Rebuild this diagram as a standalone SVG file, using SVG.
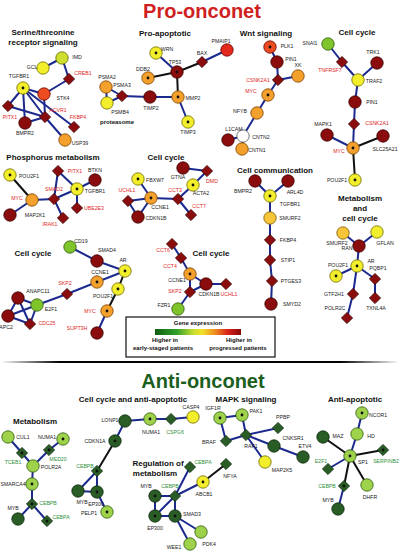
<svg xmlns="http://www.w3.org/2000/svg" xmlns:xlink="http://www.w3.org/1999/xlink" width="400" height="553" viewBox="0 0 400 553">
<defs>
<style>
text{font-family:"Liberation Sans",Arial,sans-serif}
.dr{fill:#8a0c0c;stroke:#3a0000}
.rd{fill:#e3281e;stroke:#600}
.ro{fill:#ec4c1f;stroke:#600}
.or{fill:#f3a02c;stroke:#7a4000}
.yo{fill:#f6c53a;stroke:#7a5a00}
.ye{fill:#f2ee2c;stroke:#6e6a00}
.yg{fill:#cfdf2e;stroke:#5a6a00}
.gr{fill:#80c42c;stroke:#2e5a10}
.lg{fill:#9ed24a;stroke:#2e5a10}
.dg{fill:#2a5c25;stroke:#0e2a0e}
.wh{fill:#fff;stroke:#555}
use{stroke-width:0.8}
.d{fill:#111}
.e line{stroke-width:2;stroke-linecap:round}
.b{stroke:#1c2a8e}
.k{stroke:#111}
.l{font-size:5.2px;text-anchor:middle;fill:#1a1a1a}
.lr{fill:#e0261c}
.lgn{fill:#2f8f3a}
.h{font-size:8px;font-weight:bold;text-anchor:middle;fill:#111}
.big{font-size:20px;font-weight:bold;text-anchor:middle}
.lt{font-size:6px;font-weight:bold;text-anchor:middle;fill:#111}
</style>
<circle id="C" r="6.2"/>
<polygon id="D" points="0,-5.6 5.6,0 0,5.6 -5.6,0"/>
<linearGradient id="gx" x1="0" x2="1" y1="0" y2="0">
<stop offset="0" stop-color="#0f5e12"/><stop offset="0.25" stop-color="#2ea02a"/><stop offset="0.45" stop-color="#c8e030"/><stop offset="0.55" stop-color="#f3e02a"/><stop offset="0.7" stop-color="#f08a20"/><stop offset="0.85" stop-color="#d8201a"/><stop offset="1" stop-color="#8a0a0a"/>
</linearGradient>
<linearGradient id="dv" gradientUnits="userSpaceOnUse" x1="0" y1="0" x2="400" y2="0">
<stop offset="0" stop-color="#000" stop-opacity="0"/><stop offset="0.15" stop-color="#000"/><stop offset="0.85" stop-color="#000"/><stop offset="1" stop-color="#000" stop-opacity="0"/>
</linearGradient>
</defs>
<rect width="400" height="553" fill="#fff"/>

<text class="big" x="202" y="18" fill="#d01f1f">Pro-onconet</text>
<text class="big" x="203" y="388" fill="#1b5e20">Anti-onconet</text>
<line x1="2" y1="362" x2="398" y2="362" stroke="url(#dv)" stroke-width="2.2"/>

<g id="titles">
<text class="h" x="43" y="35">Serine/threonine</text>
<text class="h" x="43" y="45">receptor signaling</text>
<text class="h" x="165" y="36">Pro-apoptotic</text>
<text class="h" x="266" y="36">Wnt signaling</text>
<text class="h" x="357" y="35">Cell cycle</text>
<text class="lt" x="117" y="124">proteasome</text>
<text class="h" x="53" y="160">Phosphorus metabolism</text>
<text class="h" x="166" y="160">Cell cycle</text>
<text class="h" x="275" y="173">Cell communication</text>
<text class="h" x="360" y="201">Metabolism</text>
<text class="h" x="360" y="211">and</text>
<text class="h" x="360" y="221">cell cycle</text>
<text class="h" x="33" y="256">Cell cycle</text>
<text class="h" x="211" y="256">Cell cycle</text>
<text class="h" x="133" y="402">Cell cycle and anti-apoptotic</text>
<text class="h" x="246" y="402">MAPK signaling</text>
<text class="h" x="355" y="402">Anti-apoptotic</text>
<text class="h" x="35" y="424">Metabolism</text>
<text class="h" x="158" y="466">Regulation of</text>
<text class="h" x="155" y="476">metabolism</text>
</g>

<g id="legend">
<rect x="126" y="317" width="149" height="40" fill="#fff" stroke="#111" stroke-width="1.2"/>
<text class="lt" x="198" y="325">Gene expression</text>
<rect x="155" y="329" width="86" height="6" fill="url(#gx)"/>
<text class="lt" x="165" y="342">Higher in</text>
<text class="lt" x="163" y="350">early-staged patients</text>
<text class="lt" x="239" y="342">Higher in</text>
<text class="lt" x="238" y="350">progressed patients</text>
</g>

<g id="connectors" class="e">
<line class="b" x1="43" y1="68" x2="62" y2="58"/>
<line class="b" x1="62" y1="58" x2="69" y2="79"/>
<line class="b" x1="69" y1="79" x2="44" y2="94"/>
<line class="b" x1="23" y1="88" x2="44" y2="94"/>
<line class="b" x1="23" y1="88" x2="8" y2="106"/>
<line class="b" x1="23" y1="88" x2="25" y2="123"/>
<line class="b" x1="23" y1="88" x2="45" y2="117"/>
<line class="b" x1="23" y1="88" x2="74" y2="127"/>
<line class="b" x1="45" y1="117" x2="8" y2="106"/>
<line class="b" x1="45" y1="117" x2="25" y2="123"/>
<line class="b" x1="45" y1="117" x2="44" y2="94"/>
<line class="b" x1="45" y1="117" x2="65" y2="140"/>
<line class="b" x1="106" y1="87" x2="122" y2="96"/>
<line class="b" x1="106" y1="87" x2="107" y2="103"/>
<line class="b" x1="107" y1="103" x2="122" y2="96"/>
<line class="b" x1="122" y1="96" x2="150" y2="97"/>
<line class="b" x1="156" y1="53" x2="177" y2="72"/>
<line class="k" x1="177" y1="72" x2="202" y2="62"/>
<line class="b" x1="202" y1="62" x2="227" y2="50"/>
<line class="k" x1="177" y1="72" x2="148" y2="78"/>
<line class="k" x1="177" y1="72" x2="178" y2="97"/>
<line class="b" x1="178" y1="97" x2="150" y2="97"/>
<line class="b" x1="178" y1="97" x2="188" y2="122"/>
<line class="b" x1="270" y1="47" x2="277" y2="62"/>
<line class="b" x1="277" y1="62" x2="278" y2="80"/>
<line class="b" x1="298" y1="76" x2="278" y2="80"/>
<line class="b" x1="278" y1="80" x2="268" y2="95"/>
<line class="b" x1="268" y1="95" x2="257" y2="113"/>
<line class="b" x1="257" y1="113" x2="243" y2="136"/>
<line class="b" x1="243" y1="136" x2="228" y2="140"/>
<line class="b" x1="243" y1="136" x2="242" y2="149"/>
<line class="b" x1="328" y1="44" x2="342" y2="62"/>
<line class="b" x1="342" y1="62" x2="358" y2="80"/>
<line class="b" x1="377" y1="63" x2="358" y2="80"/>
<line class="b" x1="358" y1="80" x2="355" y2="102"/>
<line class="b" x1="355" y1="102" x2="354" y2="124"/>
<line class="b" x1="354" y1="124" x2="353" y2="148"/>
<line class="b" x1="327" y1="135" x2="353" y2="148"/>
<line class="k" x1="383" y1="136" x2="353" y2="148"/>
<line class="k" x1="353" y1="148" x2="355" y2="180"/>
<line class="k" x1="10" y1="175" x2="32" y2="200"/>
<line class="b" x1="32" y1="200" x2="10" y2="215"/>
<line class="b" x1="32" y1="200" x2="54" y2="199"/>
<line class="b" x1="54" y1="199" x2="63" y2="218"/>
<line class="b" x1="54" y1="199" x2="58" y2="171"/>
<line class="b" x1="54" y1="199" x2="77" y2="189"/>
<line class="b" x1="77" y1="189" x2="95" y2="180"/>
<line class="b" x1="77" y1="189" x2="77" y2="208"/>
<line class="b" x1="77" y1="189" x2="58" y2="171"/>
<line class="b" x1="138" y1="179" x2="151" y2="198"/>
<line class="b" x1="151" y1="198" x2="128" y2="201"/>
<line class="b" x1="151" y1="198" x2="138" y2="217"/>
<line class="b" x1="128" y1="201" x2="138" y2="217"/>
<line class="b" x1="151" y1="198" x2="178" y2="199"/>
<line class="b" x1="178" y1="199" x2="193" y2="185"/>
<line class="b" x1="183" y1="168" x2="207" y2="171"/>
<line class="b" x1="207" y1="171" x2="193" y2="185"/>
<line class="b" x1="178" y1="199" x2="191" y2="215"/>
<line class="b" x1="255" y1="181" x2="270" y2="196"/>
<line class="b" x1="288" y1="181" x2="270" y2="196"/>
<line class="b" x1="270" y1="196" x2="270" y2="218"/>
<line class="b" x1="270" y1="218" x2="270" y2="240"/>
<line class="b" x1="270" y1="240" x2="270" y2="260"/>
<line class="b" x1="270" y1="260" x2="272" y2="281"/>
<line class="b" x1="272" y1="281" x2="271" y2="304"/>
<line class="b" x1="343" y1="233" x2="359" y2="246"/>
<line class="b" x1="377" y1="232" x2="359" y2="246"/>
<line class="b" x1="359" y1="246" x2="357" y2="266"/>
<line class="b" x1="357" y1="266" x2="336" y2="276"/>
<line class="b" x1="357" y1="266" x2="375" y2="279"/>
<line class="b" x1="357" y1="266" x2="353" y2="294"/>
<line class="b" x1="353" y1="294" x2="347" y2="318"/>
<line class="b" x1="375" y1="279" x2="375" y2="298"/>
<line class="b" x1="70" y1="247" x2="97" y2="261"/>
<line class="b" x1="97" y1="261" x2="125" y2="271"/>
<line class="b" x1="125" y1="271" x2="97" y2="282"/>
<line class="k" x1="125" y1="271" x2="118" y2="289"/>
<line class="b" x1="97" y1="282" x2="67" y2="294"/>
<line class="b" x1="67" y1="294" x2="37" y2="305"/>
<line class="b" x1="37" y1="305" x2="18" y2="298"/>
<line class="b" x1="37" y1="305" x2="8" y2="316"/>
<line class="b" x1="37" y1="305" x2="30" y2="324"/>
<line class="b" x1="18" y1="298" x2="8" y2="316"/>
<line class="b" x1="18" y1="298" x2="30" y2="324"/>
<line class="b" x1="8" y1="316" x2="30" y2="324"/>
<line class="k" x1="118" y1="289" x2="107" y2="311"/>
<line class="b" x1="107" y1="311" x2="97" y2="333"/>
<line class="b" x1="172" y1="244" x2="181" y2="258"/>
<line class="b" x1="181" y1="258" x2="190" y2="274"/>
<line class="b" x1="190" y1="274" x2="206" y2="284"/>
<line class="b" x1="190" y1="274" x2="190" y2="292"/>
<line class="b" x1="190" y1="292" x2="206" y2="284"/>
<line class="b" x1="206" y1="284" x2="226" y2="284"/>
<line class="b" x1="190" y1="292" x2="178" y2="309"/>
<line class="b" x1="8" y1="437" x2="22" y2="453"/>
<line class="b" x1="22" y1="453" x2="33" y2="466"/>
<line class="b" x1="63" y1="439" x2="49" y2="450"/>
<line class="b" x1="49" y1="450" x2="33" y2="466"/>
<line class="b" x1="33" y1="466" x2="32" y2="484"/>
<line class="b" x1="32" y1="484" x2="32" y2="504"/>
<line class="b" x1="32" y1="504" x2="18" y2="519"/>
<line class="b" x1="32" y1="504" x2="47" y2="521"/>
<line class="b" x1="125" y1="421" x2="115" y2="441"/>
<line class="b" x1="125" y1="421" x2="150" y2="419"/>
<line class="b" x1="150" y1="419" x2="171" y2="419"/>
<line class="b" x1="171" y1="419" x2="193" y2="417"/>
<line class="k" x1="115" y1="441" x2="97" y2="471"/>
<line class="b" x1="97" y1="471" x2="78" y2="491"/>
<line class="b" x1="97" y1="471" x2="97" y2="492"/>
<line class="b" x1="78" y1="491" x2="97" y2="492"/>
<line class="b" x1="97" y1="492" x2="107" y2="512"/>
<line class="b" x1="220" y1="418" x2="242" y2="415"/>
<line class="b" x1="220" y1="418" x2="226" y2="441"/>
<line class="b" x1="242" y1="415" x2="246" y2="435"/>
<line class="b" x1="226" y1="441" x2="246" y2="435"/>
<line class="b" x1="246" y1="435" x2="278" y2="428"/>
<line class="b" x1="246" y1="435" x2="274" y2="446"/>
<line class="b" x1="246" y1="435" x2="265" y2="462"/>
<line class="b" x1="274" y1="446" x2="303" y2="457"/>
<line class="b" x1="175" y1="496" x2="190" y2="467"/>
<line class="b" x1="175" y1="496" x2="203" y2="482"/>
<line class="k" x1="203" y1="482" x2="226" y2="464"/>
<line class="b" x1="175" y1="496" x2="155" y2="496"/>
<line class="b" x1="175" y1="496" x2="155" y2="516"/>
<line class="b" x1="175" y1="496" x2="175" y2="516"/>
<line class="b" x1="155" y1="496" x2="155" y2="516"/>
<line class="b" x1="155" y1="516" x2="175" y2="516"/>
<line class="b" x1="175" y1="516" x2="201" y2="532"/>
<line class="b" x1="175" y1="516" x2="190" y2="544"/>
<line class="b" x1="362" y1="413" x2="357" y2="434"/>
<line class="b" x1="357" y1="434" x2="350" y2="456"/>
<line class="k" x1="350" y1="456" x2="323" y2="437"/>
<line class="k" x1="350" y1="456" x2="383" y2="450"/>
<line class="b" x1="350" y1="456" x2="328" y2="469"/>
<line class="k" x1="350" y1="456" x2="344" y2="486"/>
<line class="k" x1="350" y1="456" x2="367" y2="485"/>
<line class="b" x1="344" y1="486" x2="338" y2="509"/>
</g>

<g id="st-imd"><use href="#C" x="62" y="58" class="yg"/><text class="l" x="77" y="59">IMD</text></g>
<g id="st-gcl"><use href="#C" x="43" y="68" class="ye"/><text class="l" x="32" y="69">GCL</text></g>
<g id="st-creb1"><use href="#D" x="69" y="79" class="dr"/><text class="l lr" x="83" y="75">CREB1</text></g>
<g id="st-tgfbr1"><use href="#C" x="23" y="88" class="ye"/><circle class="d" cx="23" cy="88" r="1.4"/><text class="l" x="19" y="78">TGFBR1</text></g>
<g id="st-stk4"><use href="#C" x="44" y="94" class="ro"/><text class="l" x="63" y="100">STK4</text></g>
<g id="st-pitx1"><use href="#D" x="8" y="106" class="dr"/><text class="l lr" x="10" y="119">PITX1</text></g>
<g id="st-acvr1"><use href="#D" x="45" y="117" class="dr"/><text class="l lr" x="58" y="112">ACVR1</text></g>
<g id="st-fkbp4"><use href="#D" x="74" y="127" class="dr"/><text class="l lr" x="78" y="119">FKBP4</text></g>
<g id="st-bmpr2"><use href="#C" x="25" y="123" class="dr"/><text class="l" x="25" y="135">BMPR2</text></g>
<g id="st-usp39"><use href="#C" x="65" y="140" class="or"/><text class="l" x="80" y="145">USP39</text></g>

<g id="pr-psma2"><use href="#C" x="106" y="87" class="or"/><text class="l" x="107" y="79">PSMA2</text></g>
<g id="pr-psma3"><use href="#D" x="122" y="96" class="dr"/><text class="l" x="122" y="87">PSMA3</text></g>
<g id="pr-psmb4"><use href="#C" x="107" y="103" class="ye"/><text class="l" x="120" y="114">PSMB4</text></g>

<g id="pa-wrn"><use href="#C" x="156" y="53" class="ye"/><circle class="d" cx="156" cy="53" r="1.4"/><text class="l" x="167" y="51">WRN</text></g>
<g id="pa-tp53"><use href="#C" x="177" y="72" class="dr"/><circle class="d" cx="177" cy="72" r="1.4"/><text class="l" x="175" y="64">TP53</text></g>
<g id="pa-bax"><use href="#D" x="202" y="62" class="dr"/><text class="l" x="202" y="55">BAX</text></g>
<g id="pa-pmaip1"><use href="#C" x="227" y="50" class="rd"/><text class="l" x="221" y="43">PMAIP1</text></g>
<g id="pa-ddb2"><use href="#C" x="148" y="78" class="or"/><circle class="d" cx="148" cy="78" r="1.4"/><text class="l" x="143" y="71">DDB2</text></g>
<g id="pa-mmp2"><use href="#C" x="178" y="97" class="or"/><circle class="d" cx="178" cy="97" r="1.4"/><text class="l" x="193" y="100">MMP2</text></g>
<g id="pa-timp2"><use href="#C" x="150" y="97" class="dr"/><text class="l" x="151" y="110">TIMP2</text></g>
<g id="pa-timp3"><use href="#C" x="188" y="122" class="ye"/><circle class="d" cx="188" cy="122" r="1.4"/><text class="l" x="188" y="134">TIMP3</text></g>

<g id="wn-plk1"><use href="#C" x="270" y="47" class="ro"/><circle class="d" cx="270" cy="47" r="1.4"/><text class="l" x="287" y="48">PLK1</text></g>
<g id="wn-pin1"><use href="#C" x="277" y="62" class="dr"/><text class="l" x="291" y="61">PIN1</text></g>
<g id="wn-xk"><use href="#C" x="298" y="76" class="or"/><text class="l" x="298" y="67">XK</text></g>
<g id="wn-csnk2a1"><use href="#D" x="278" y="80" class="dr"/><text class="l lr" x="258" y="82">CSNK2A1</text></g>
<g id="wn-myc"><use href="#C" x="268" y="95" class="or"/><circle class="d" cx="268" cy="95" r="1.4"/><text class="l lr" x="251" y="93">MYC</text></g>
<g id="wn-nfyb"><use href="#C" x="257" y="113" class="or"/><text class="l" x="240" y="113">NFYB</text></g>
<g id="wn-cntn2"><use href="#C" x="243" y="136" class="wh"/><text class="l" x="261" y="139">CNTN2</text></g>
<g id="wn-l1cam"><use href="#C" x="228" y="140" class="dr"/><text class="l" x="234" y="131">L1CAM</text></g>
<g id="wn-cntn1"><use href="#C" x="242" y="149" class="or"/><text class="l" x="257" y="152">CNTN1</text></g>

<g id="cr-snai1"><use href="#C" x="328" y="44" class="gr"/><text class="l" x="310" y="45">SNAI1</text></g>
<g id="cr-tnfrsf7"><use href="#D" x="342" y="62" class="dr"/><text class="l lr" x="330" y="72">TNFRSF7</text></g>
<g id="cr-trk1"><use href="#C" x="377" y="63" class="dr"/><text class="l" x="373" y="54">TRK1</text></g>
<g id="cr-traf2"><use href="#C" x="358" y="80" class="ye"/><text class="l" x="374" y="83">TRAF2</text></g>
<g id="cr-pin1"><use href="#C" x="355" y="102" class="dr"/><text class="l" x="372" y="104">PIN1</text></g>
<g id="cr-csnk2a1"><use href="#D" x="354" y="124" class="dr"/><text class="l lr" x="377" y="125">CSNK2A1</text></g>
<g id="cr-mapk1"><use href="#C" x="327" y="135" class="dr"/><text class="l" x="323" y="126">MAPK1</text></g>
<g id="cr-slc25a21"><use href="#C" x="383" y="136" class="dr"/><text class="l" x="385" y="151">SLC25A21</text></g>
<g id="cr-myc"><use href="#C" x="353" y="148" class="or"/><circle class="d" cx="353" cy="148" r="1.4"/><text class="l lr" x="339" y="153">MYC</text></g>
<g id="cr-pou2f1"><use href="#C" x="355" y="180" class="ye"/><circle class="d" cx="355" cy="180" r="1.4"/><text class="l" x="337" y="182">POU2F1</text></g>

<g id="ph-pou2f1"><use href="#C" x="10" y="175" class="ye"/><circle class="d" cx="10" cy="175" r="1.4"/><text class="l" x="29" y="178">POU2F1</text></g>
<g id="ph-myc"><use href="#C" x="32" y="200" class="or"/><text class="l lr" x="17" y="200">MYC</text></g>
<g id="ph-map2k1"><use href="#C" x="10" y="215" class="dr"/><text class="l" x="35" y="217">MAP2K1</text></g>
<g id="ph-smad2"><use href="#D" x="54" y="199" class="dr"/><text class="l lr" x="54" y="191">SMAD2</text></g>
<g id="ph-pitx1"><use href="#D" x="58" y="171" class="dr"/><text class="l lr" x="75" y="173">PITX1</text></g>
<g id="ph-btkn"><use href="#C" x="95" y="180" class="dr"/><text class="l" x="95" y="172">BTKN</text></g>
<g id="ph-tgfbr1"><use href="#C" x="77" y="189" class="ye"/><circle class="d" cx="77" cy="189" r="1.4"/><text class="l" x="95" y="193">TGFBR1</text></g>
<g id="ph-ube2e3"><use href="#D" x="77" y="208" class="dr"/><text class="l lr" x="94" y="210">UBE2E3</text></g>
<g id="ph-irak1"><use href="#D" x="63" y="218" class="dr"/><text class="l lr" x="50" y="226">IRAK1</text></g>

<g id="cm-fbxw7"><use href="#C" x="138" y="179" class="ye"/><circle class="d" cx="138" cy="179" r="1.4"/><text class="l" x="155" y="182">FBXW7</text></g>
<g id="cm-uchl1"><use href="#D" x="128" y="201" class="dr"/><text class="l lr" x="127" y="192">UCHL1</text></g>
<g id="cm-ccne1"><use href="#C" x="151" y="198" class="or"/><circle class="d" cx="151" cy="198" r="1.4"/><text class="l" x="160" y="209">CCNE1</text></g>
<g id="cm-cdkn1b"><use href="#C" x="138" y="217" class="dr"/><text class="l" x="156" y="220">CDKN1B</text></g>
<g id="cm-cct3"><use href="#D" x="178" y="199" class="dr"/><text class="l lr" x="175" y="192">CCT3</text></g>
<g id="cm-gtna"><use href="#C" x="183" y="168" class="dr"/><text class="l" x="178" y="179">GTNA</text></g>
<g id="cm-dmd"><use href="#D" x="207" y="171" class="dr"/><text class="l lr" x="212" y="183">DMD</text></g>
<g id="cm-acta2"><use href="#C" x="193" y="185" class="ye"/><circle class="d" cx="193" cy="185" r="1.4"/><text class="l" x="201" y="195">ACTA2</text></g>
<g id="cm-cct7"><use href="#D" x="191" y="215" class="dr"/><text class="l lr" x="199" y="208">CCT7</text></g>

<g id="cc-bmpr2"><use href="#C" x="255" y="181" class="dr"/><text class="l" x="243" y="193">BMPR2</text></g>
<g id="cc-arl4d"><use href="#C" x="288" y="181" class="dr"/><text class="l" x="295" y="194">ARL4D</text></g>
<g id="cc-tgfbr1"><use href="#C" x="270" y="196" class="ye"/><circle class="d" cx="270" cy="196" r="1.4"/><text class="l" x="290" y="206">TGFBR1</text></g>
<g id="cc-smurf2"><use href="#C" x="270" y="218" class="yo"/><text class="l" x="290" y="220">SMURF2</text></g>
<g id="cc-fkbp4"><use href="#D" x="270" y="240" class="dr"/><text class="l" x="288" y="242">FKBP4</text></g>
<g id="cc-stip1"><use href="#D" x="270" y="260" class="dr"/><text class="l" x="288" y="262">STIP1</text></g>
<g id="cc-ptges3"><use href="#D" x="272" y="281" class="dr"/><text class="l" x="291" y="283">PTGES3</text></g>
<g id="cc-smyd2"><use href="#C" x="271" y="304" class="dr"/><text class="l" x="292" y="306">SMYD2</text></g>

<g id="mc-smurf2"><use href="#C" x="343" y="233" class="yo"/><text class="l" x="337" y="245">SMURF2</text></g>
<g id="mc-gflan"><use href="#C" x="377" y="232" class="ye"/><text class="l" x="385" y="245">GFLAN</text></g>
<g id="mc-ran"><use href="#C" x="359" y="246" class="dr"/><text class="l" x="347" y="250">RAN</text></g>
<g id="mc-ar"><use href="#C" x="357" y="266" class="ye"/><circle class="d" cx="357" cy="266" r="1.4"/><text class="l" x="371" y="263">AR</text></g>
<g id="mc-pou2f1"><use href="#C" x="336" y="276" class="ye"/><circle class="d" cx="336" cy="276" r="1.4"/><text class="l" x="338" y="267">POU2F1</text></g>
<g id="mc-pqbp1"><use href="#D" x="375" y="279" class="dr"/><text class="l" x="378" y="270">PQBP1</text></g>
<g id="mc-gtf2h1"><use href="#D" x="353" y="294" class="dr"/><text class="l" x="334" y="296">GTF2H1</text></g>
<g id="mc-polr2c"><use href="#D" x="347" y="318" class="dr"/><text class="l" x="335" y="310">POLR2C</text></g>
<g id="mc-txnl4a"><use href="#D" x="375" y="298" class="dr"/><text class="l" x="376" y="310">TXNL4A</text></g>

<g id="cl-cd19"><use href="#C" x="70" y="247" class="gr"/><text class="l" x="81" y="243">CD19</text></g>
<g id="cl-smad4"><use href="#C" x="97" y="261" class="dr"/><text class="l" x="107" y="252">SMAD4</text></g>
<g id="cl-ar"><use href="#C" x="125" y="271" class="ye"/><circle class="d" cx="125" cy="271" r="1.4"/><text class="l" x="123" y="262">AR</text></g>
<g id="cl-ccne1"><use href="#C" x="97" y="282" class="or"/><circle class="d" cx="97" cy="282" r="1.4"/><text class="l" x="100" y="274">CCNE1</text></g>
<g id="cl-skp2"><use href="#D" x="67" y="294" class="dr"/><text class="l lr" x="65" y="285">SKP2</text></g>
<g id="cl-pou2f1"><use href="#C" x="118" y="289" class="ye"/><circle class="d" cx="118" cy="289" r="1.4"/><text class="l" x="103" y="298">POU2F1</text></g>
<g id="cl-myc"><use href="#C" x="107" y="311" class="or"/><circle class="d" cx="107" cy="311" r="1.4"/><text class="l lr" x="90" y="313">MYC</text></g>
<g id="cl-supt3h"><use href="#C" x="97" y="333" class="dr"/><text class="l lr" x="77" y="330">SUPT3H</text></g>
<g id="cl-anapc11"><use href="#C" x="18" y="298" class="dr"/><text class="l" x="38" y="293">ANAPC11</text></g>
<g id="cl-e2f1"><use href="#C" x="37" y="305" class="gr"/><text class="l" x="51" y="311">E2F1</text></g>
<g id="cl-apc2"><use href="#C" x="8" y="316" class="dr"/><text class="l" x="6" y="329">APC2</text></g>
<g id="cl-cdc25"><use href="#D" x="30" y="324" class="dr"/><text class="l lr" x="47" y="325">CDC25</text></g>

<g id="cb-cct6"><use href="#D" x="172" y="244" class="dr"/><text class="l lr" x="163" y="252">CCT6</text></g>
<g id="cb-cct4"><use href="#D" x="181" y="258" class="dr"/><text class="l lr" x="170" y="268">CCT4</text></g>
<g id="cb-ccne1"><use href="#C" x="190" y="274" class="or"/><circle class="d" cx="190" cy="274" r="1.4"/><text class="l" x="177" y="282">CCNE1</text></g>
<g id="cb-skp2"><use href="#D" x="190" y="292" class="dr"/><text class="l lr" x="175" y="293">SKP2</text></g>
<g id="cb-cdkn1b"><use href="#C" x="206" y="284" class="dr"/><text class="l" x="209" y="296">CDKN1B</text></g>
<g id="cb-uchl1"><use href="#D" x="226" y="284" class="dr"/><text class="l lr" x="229" y="296">UCHL1</text></g>
<g id="cb-fzr1"><use href="#C" x="178" y="309" class="gr"/><text class="l" x="164" y="307">FZR1</text></g>

<g id="am-cul1"><use href="#C" x="8" y="437" class="lg"/><text class="l" x="23" y="439">CUL1</text></g>
<g id="am-numa1"><use href="#C" x="63" y="439" class="lg"/><circle class="d" cx="63" cy="439" r="1.4"/><text class="l" x="47" y="439">NUMA1</text></g>
<g id="am-tceb1"><use href="#D" x="22" y="453" class="dg"/><circle class="d" cx="22" cy="453" r="1.4"/><text class="l lgn" x="13" y="464">TCEB1</text></g>
<g id="am-med20"><use href="#D" x="49" y="450" class="dg"/><circle class="d" cx="49" cy="450" r="1.4"/><text class="l lgn" x="58" y="461">MED20</text></g>
<g id="am-polr2a"><use href="#C" x="33" y="466" class="lg"/><text class="l" x="51" y="469">POLR2A</text></g>
<g id="am-smarca4"><use href="#C" x="32" y="484" class="lg"/><circle class="d" cx="32" cy="484" r="1.4"/><text class="l" x="13" y="486">SMARCA4</text></g>
<g id="am-cebpb"><use href="#D" x="32" y="504" class="dg"/><circle class="d" cx="32" cy="504" r="1.4"/><text class="l lgn" x="48" y="505">CEBPB</text></g>
<g id="am-myb"><use href="#C" x="18" y="519" class="dg"/><text class="l" x="13" y="510">MYB</text></g>
<g id="am-cebpa"><use href="#D" x="47" y="521" class="dg"/><circle class="d" cx="47" cy="521" r="1.4"/><text class="l lgn" x="61" y="519">CEBPA</text></g>

<g id="aa-lonp1"><use href="#C" x="125" y="421" class="dg"/><text class="l" x="110" y="422">LONP1</text></g>
<g id="aa-cdkn1a"><use href="#C" x="115" y="441" class="dg"/><circle class="d" cx="115" cy="441" r="1.4"/><text class="l" x="95" y="443">CDKN1A</text></g>
<g id="aa-cebpb"><use href="#D" x="97" y="471" class="dg"/><circle class="d" cx="97" cy="471" r="1.4"/><text class="l lgn" x="85" y="468">CEBPB</text></g>
<g id="aa-myb"><use href="#C" x="78" y="491" class="dg"/><text class="l" x="82" y="504">MYB</text></g>
<g id="aa-ep300"><use href="#C" x="97" y="492" class="dg"/><circle class="d" cx="97" cy="492" r="1.4"/><text class="l" x="96" y="506">EP300</text></g>
<g id="aa-pelp1"><use href="#C" x="107" y="512" class="lg"/><circle class="d" cx="107" cy="512" r="1.4"/><text class="l" x="89" y="515">PELP1</text></g>
<g id="aa-numa1"><use href="#C" x="150" y="419" class="lg"/><circle class="d" cx="150" cy="419" r="1.4"/><text class="l" x="151" y="434">NUMA1</text></g>
<g id="aa-cspg6"><use href="#D" x="171" y="419" class="dg"/><text class="l lgn" x="175" y="434">CSPG6</text></g>
<g id="aa-casp4"><use href="#C" x="193" y="417" class="ye"/><text class="l" x="191" y="409">CASP4</text></g>

<g id="mk-igf1r"><use href="#C" x="220" y="418" class="lg"/><circle class="d" cx="220" cy="418" r="1.4"/><text class="l" x="213" y="410">IGF1R</text></g>
<g id="mk-pak1"><use href="#C" x="242" y="415" class="lg"/><circle class="d" cx="242" cy="415" r="1.4"/><text class="l" x="256" y="413">PAK1</text></g>
<g id="mk-braf"><use href="#D" x="226" y="441" class="dg"/><text class="l" x="209" y="444">BRAF</text></g>
<g id="mk-raf1"><use href="#D" x="246" y="435" class="dg"/><text class="l" x="251" y="448">RAF1</text></g>
<g id="mk-ppbp"><use href="#D" x="278" y="428" class="dg"/><text class="l" x="283" y="419">PPBP</text></g>
<g id="mk-cnksr1"><use href="#C" x="274" y="446" class="dg"/><text class="l" x="293" y="440">CNKSR1</text></g>
<g id="mk-etv4"><use href="#C" x="303" y="457" class="dg"/><text class="l" x="305" y="448">ETV4</text></g>
<g id="mk-map2k5"><use href="#C" x="265" y="462" class="ye"/><text class="l" x="282" y="472">MAP2K5</text></g>

<g id="rm-cebpa"><use href="#D" x="190" y="467" class="dg"/><text class="l lgn" x="203" y="464">CEBPA</text></g>
<g id="rm-nfya"><use href="#D" x="226" y="464" class="dg"/><text class="l" x="230" y="478">NFYA</text></g>
<g id="rm-abcb1"><use href="#C" x="203" y="482" class="ye"/><circle class="d" cx="203" cy="482" r="1.4"/><text class="l" x="204" y="496">ABCB1</text></g>
<g id="rm-cebpb"><use href="#D" x="175" y="496" class="dg"/><text class="l lgn" x="170" y="488">CEBPB</text></g>
<g id="rm-myb"><use href="#C" x="155" y="496" class="dg"/><circle class="d" cx="155" cy="496" r="1.4"/><text class="l" x="146" y="488">MYB</text></g>
<g id="rm-ep300"><use href="#C" x="155" y="516" class="dg"/><circle class="d" cx="155" cy="516" r="1.4"/><text class="l" x="155" y="530">EP300</text></g>
<g id="rm-smad3"><use href="#C" x="175" y="516" class="dg"/><circle class="d" cx="175" cy="516" r="1.4"/><text class="l" x="192" y="516">SMAD3</text></g>
<g id="rm-pdk4"><use href="#C" x="201" y="532" class="lg"/><text class="l" x="209" y="546">PDK4</text></g>
<g id="rm-wee1"><use href="#C" x="190" y="544" class="lg"/><text class="l" x="174" y="549">WEE1</text></g>

<g id="ap-ncor1"><use href="#C" x="362" y="413" class="lg"/><circle class="d" cx="362" cy="413" r="1.4"/><text class="l" x="378" y="417">NCOR1</text></g>
<g id="ap-maz"><use href="#C" x="323" y="437" class="dg"/><text class="l" x="338" y="438">MAZ</text></g>
<g id="ap-hd"><use href="#C" x="357" y="434" class="lg"/><text class="l" x="371" y="438">HD</text></g>
<g id="ap-sp1"><use href="#C" x="350" y="456" class="lg"/><circle class="d" cx="350" cy="456" r="1.4"/><text class="l" x="363" y="464">SP1</text></g>
<g id="ap-serpinb2"><use href="#D" x="383" y="450" class="dg"/><circle class="d" cx="383" cy="450" r="1.4"/><text class="l lgn" x="386" y="463">SERPINB2</text></g>
<g id="ap-e2f1"><use href="#D" x="328" y="469" class="dg"/><text class="l lgn" x="321" y="463">E2F1</text></g>
<g id="ap-cebpb"><use href="#D" x="344" y="486" class="dg"/><circle class="d" cx="344" cy="486" r="1.4"/><text class="l lgn" x="327" y="488">CEBPB</text></g>
<g id="ap-dhfr"><use href="#C" x="367" y="485" class="lg"/><text class="l" x="370" y="499">DHFR</text></g>
<g id="ap-myb"><use href="#C" x="338" y="509" class="dg"/><text class="l" x="328" y="502">MYB</text></g>
</svg>
